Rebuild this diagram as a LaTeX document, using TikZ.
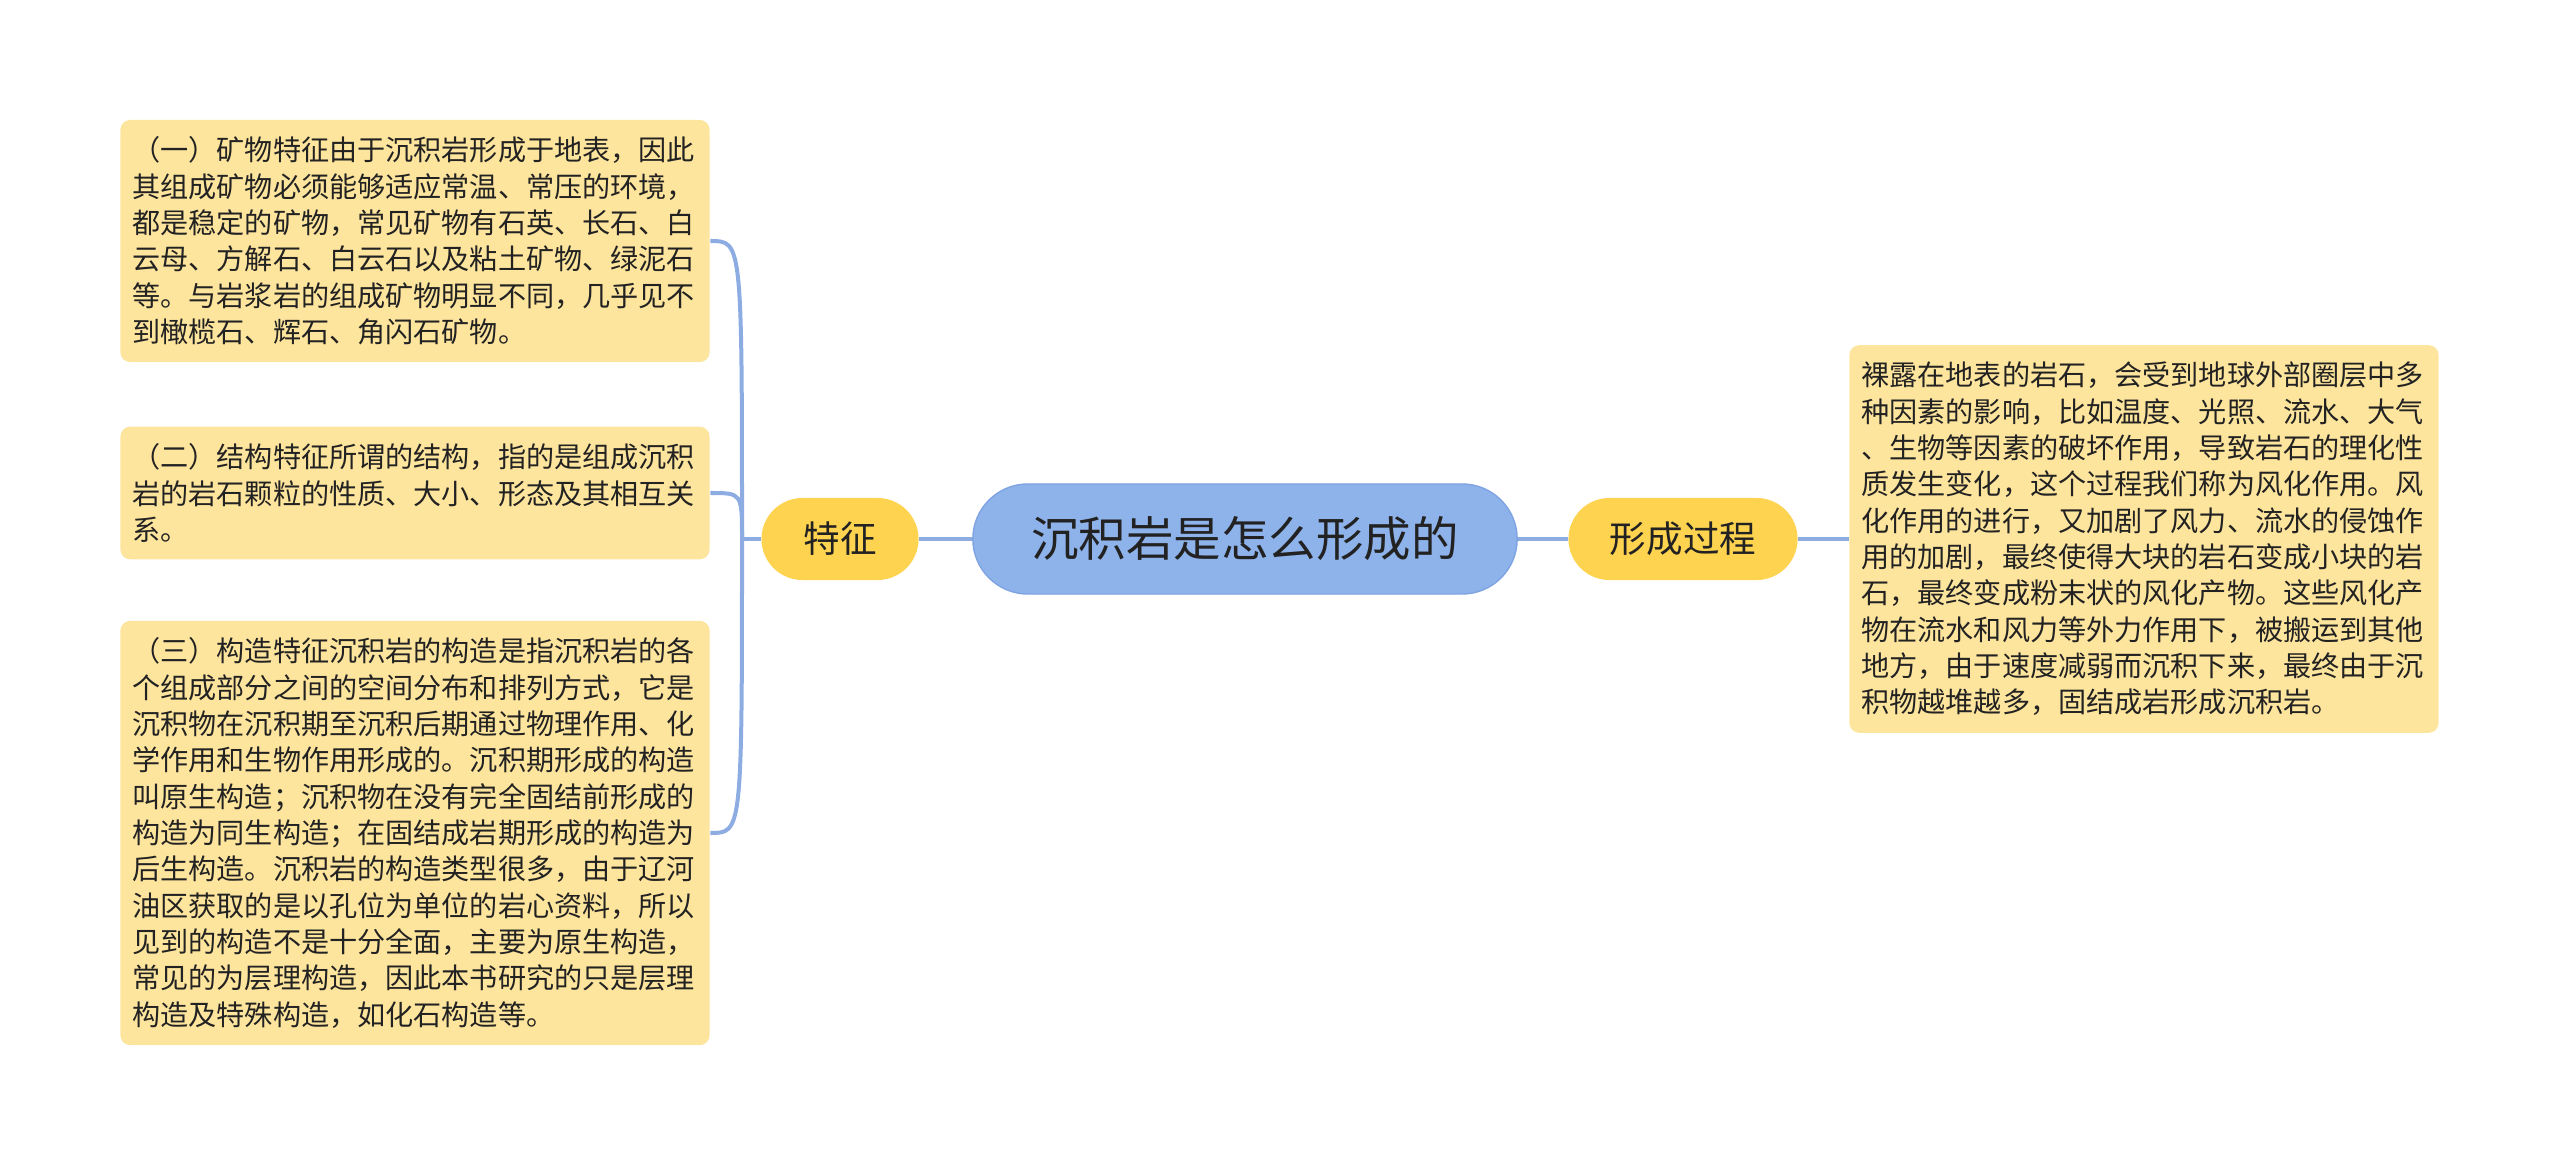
\documentclass[tikz,border=0pt]{standalone}
\usepackage{fontspec}
\setmainfont{Noto Sans CJK SC}
\definecolor{boxfill}{RGB}{254,229,158}
\definecolor{subfill}{RGB}{253,211,80}
\definecolor{rootfill}{RGB}{142,178,234}
\definecolor{rootline}{RGB}{128,164,226}
\definecolor{linkcol}{RGB}{140,172,226}
\definecolor{txtcol}{RGB}{34,34,34}

\begin{document}
\begin{tikzpicture}[x=0.01cm,y=-0.01cm,
  leaf/.style={fill=boxfill,rounded corners=0.1cm,text width=5.65cm,inner xsep=0.12cm,inner ysep=0.17cm,
    align=left,text=txtcol,font=\fontsize{8pt}{10.33pt}\selectfont},
  topic/.style={fill=subfill,minimum height=0.82cm,rounded corners=0.41cm,inner sep=0pt,
    text=txtcol,font=\fontsize{10.4pt}{12pt}\selectfont},
  rootnode/.style={fill=rootfill,draw=rootline,line width=0.4pt,minimum width=5.44cm,minimum height=1.1cm,
    rounded corners=0.55cm,inner sep=0pt,text=txtcol,font=\fontsize{13.5pt}{15pt}\selectfont},
  link/.style={draw=linkcol,line width=0.04cm}]
\useasboundingbox (0,0) rectangle (2560,1167);

% centre and the two branches
\node[rootnode] (root) at (1245,539) {沉积岩是怎么形成的};
\node[topic,minimum width=1.57cm] (tezheng) at (840,539) {特征};
\node[topic,minimum width=2.29cm] (guocheng) at (1683,539) {形成过程};

% left leaves
\node[leaf] (kuangwu) at (415,241) {（一）矿物特征由于沉积岩形成于地表，因此\\
其组成矿物必须能够适应常温、常压的环境，\\
都是稳定的矿物，常见矿物有石英、长石、白\\
云母、方解石、白云石以及粘土矿物、绿泥石\\
等。与岩浆岩的组成矿物明显不同，几乎见不\\
到橄榄石、辉石、角闪石矿物。};
\node[leaf] (jiegou) at (415,493) {（二）结构特征所谓的结构，指的是组成沉积\\
岩的岩石颗粒的性质、大小、形态及其相互关\\
系。};
\node[leaf] (gouzao) at (415,833) {（三）构造特征沉积岩的构造是指沉积岩的各\\
个组成部分之间的空间分布和排列方式，它是\\
沉积物在沉积期至沉积后期通过物理作用、化\\
学作用和生物作用形成的。沉积期形成的构造\\
叫原生构造；沉积物在没有完全固结前形成的\\
构造为同生构造；在固结成岩期形成的构造为\\
后生构造。沉积岩的构造类型很多，由于辽河\\
油区获取的是以孔位为单位的岩心资料，所以\\
见到的构造不是十分全面，主要为原生构造，\\
常见的为层理构造，因此本书研究的只是层理\\
构造及特殊构造，如化石构造等。};

% right leaf
\node[leaf] (fenghua) at (2144,539) {裸露在地表的岩石，会受到地球外部圈层中多\\
种因素的影响，比如温度、光照、流水、大气\\
、生物等因素的破坏作用，导致岩石的理化性\\
质发生变化，这个过程我们称为风化作用。风\\
化作用的进行，又加剧了风力、流水的侵蚀作\\
用的加剧，最终使得大块的岩石变成小块的岩\\
石，最终变成粉末状的风化产物。这些风化产\\
物在流水和风力等外力作用下，被搬运到其他\\
地方，由于速度减弱而沉积下来，最终由于沉\\
积物越堆越多，固结成岩形成沉积岩。};

\coordinate (trunk) at (742,539);  %fork of the left branch
\draw[link] (root.west) -- (tezheng.east);
\draw[link] (tezheng.west) -- (trunk);
\draw[link] (trunk) .. controls (trunk |- kuangwu.east) .. (kuangwu.east);
\draw[link] (trunk) .. controls (trunk |- jiegou.east) .. (jiegou.east);
\draw[link] (trunk) .. controls (trunk |- gouzao.east) .. (gouzao.east);
\draw[link] (root.east) -- (guocheng.west);
\draw[link] (guocheng.east) -- (fenghua.west);
\end{tikzpicture}
\end{document}
